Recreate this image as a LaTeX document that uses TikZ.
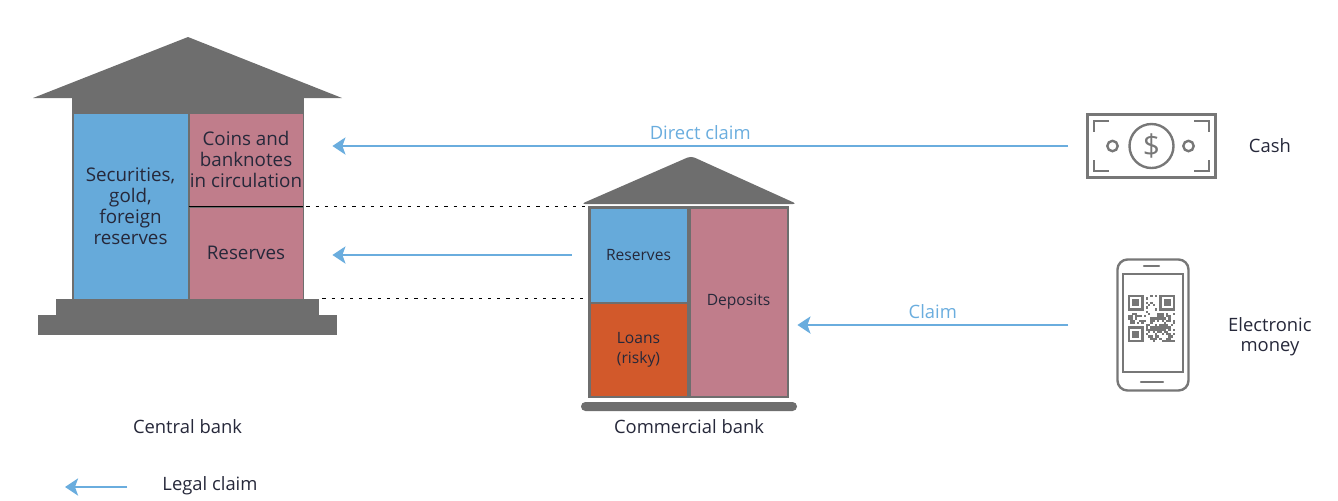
\documentclass[tikz,border=0pt]{standalone}
\usepackage{fontspec}
\setmainfont{Open Sans}
\usetikzlibrary{arrows.meta}
\usetikzlibrary{positioning}
\usetikzlibrary{calc}

\definecolor{roofgray}{HTML}{6E6E6E}
\definecolor{assetblue}{HTML}{66AADA}
\definecolor{liabpink}{HTML}{C07D8B}
\definecolor{loanorange}{HTML}{D2592B}
\definecolor{claimblue}{HTML}{6AADDE}
\definecolor{icongray}{HTML}{777777}
\definecolor{txtdark}{HTML}{26283A}

\tikzset{
  block/.style={draw=roofgray, line width=0.4pt, inner sep=0pt, align=center, text=txtdark,
    font=\fontsize{9.4}{10.5}\selectfont},
  smallblock/.style={block, font=\fontsize{7.8}{10}\selectfont},
  claim/.style={draw=claimblue, line width=1.3pt, -{Stealth[length=6.5pt,width=8.5pt,inset=1.5pt]}},
  namelabel/.style={text=txtdark, font=\fontsize{9.2}{10.2}\selectfont, align=center},
  icon/.style={draw=icongray, line width=1.2pt},
  refline/.style={draw=black, line width=0.8pt, dash pattern=on 1.6pt off 3pt},
}

\begin{document}
\begin{tikzpicture}[x=0.5pt, y=-0.5pt, node distance=10pt]
  \useasboundingbox (0,0) rectangle (1338,500);

  % central bank
  \fill[roofgray] (33,98) -- (188,37) -- (342,98) -- cycle;
  \node[fill=roofgray, inner sep=0pt, minimum width=116pt, minimum height=101.5pt] (cbframe) at (188,199) {};
  \node[block, fill=assetblue, minimum width=57.5pt, minimum height=93pt] (cbassets) at (130.5,206) {Securities,\\gold,\\foreign\\reserves};
  \node[block, fill=liabpink, minimum width=57pt, minimum height=46.5pt] (cbcoins) at (246,159.5) {Coins and\\banknotes\\in circulation};
  \node[block, fill=liabpink, minimum width=57pt, minimum height=46pt] (cbres) at (246,253) {Reserves};
  \draw[black, line width=0.9pt] (cbcoins.south west) -- (cbcoins.south east);
  \node[fill=roofgray, inner sep=0pt, minimum width=131.5pt, minimum height=8pt] (cbstep) at (187.5,307) {};
  \node[fill=roofgray, inner sep=0pt, minimum width=149.5pt, minimum height=10pt] (cbbase) at (187.5,325) {};

  % commercial bank
  \fill[roofgray, rounded corners=2pt] (581,204) -- (691,156) -- (797,204) -- cycle;
  \node[fill=roofgray, inner sep=0pt, minimum width=100.5pt, minimum height=96pt] (crframe) at (688.5,302) {};
  \node[smallblock, fill=assetblue, minimum width=48.5pt, minimum height=47pt] (crres) at (638.5,255) {Reserves};
  \node[smallblock, fill=loanorange, minimum width=48.5pt, minimum height=46.5pt] (crloans) at (638.5,349.5) {Loans\\(risky)};
  \node[smallblock, fill=liabpink, minimum width=48.5pt, minimum height=94pt] (crdep) at (738.5,302) {Deposits};
  \node[fill=roofgray, rounded corners=2.2pt, inner sep=0pt, minimum width=108pt, minimum height=4.5pt] (crbase) at (689,406.5) {};

  \node[namelabel, below=0.5pt of crbase] (crname) {Commercial bank};
  \node[namelabel] (cbname) at (cbbase.south |- crname) {Central bank};

  \draw[refline] ([xshift=1.5pt]cbcoins.south east) -- ([xshift=-1.5pt]cbcoins.south east -| crframe.west);
  \draw[refline] ([xshift=1.5pt]cbstep.north east) -- ([xshift=-1.5pt]cbstep.north east -| crframe.west);

  % cash
  \node[icon, line width=1.4pt, inner sep=0pt, minimum width=64pt, minimum height=31.5pt] (cash) at (1151.5,146) {};
  \foreach \cx/\cy/\sx/\sy in {1094/121/1/1, 1209/121/-1/1, 1094/171/1/-1, 1209/171/-1/-1}
    \draw[icon] (\cx+\sx*15,\cy) -- (\cx,\cy) -- (\cx,\cy+\sy*11);
  \node[icon, circle, inner sep=0pt, minimum size=22pt, text=icongray,
    font=\fontsize{15}{15}\selectfont] (coin) at (cash.center) {\$};
  \draw[icon] ($(cash.center)+(-39,0)$) circle (2.6pt);
  \draw[icon] ($(cash.center)+(37,0)$) circle (2.6pt);
  \node[namelabel, right=12.5pt of cash] (cashname) {Cash};

  % electronic money
  \node[icon, rounded corners=5pt, inner sep=0pt, minimum width=35.5pt, minimum height=65.5pt] (phone) at (1153,325) {};
  \node[icon, inner sep=0pt, minimum width=30pt, minimum height=49pt] (screen) at (1153,323) {};
  \draw[icon, line cap=round] (1144,266) -- (1159,266);
  \draw[icon, line cap=round] (1141,382) -- (1163,382);
  \coordinate (qr) at (1128,295);
  \pgfmathsetseed{17}
  \foreach \i in {0,...,20}{
    \foreach \j in {0,...,20}{
      \pgfmathtruncatemacro{\infinder}{((\i<8)&&(\j<8))||((\i>12)&&(\j<8))||((\i<8)&&(\j>12))}
      \pgfmathtruncatemacro{\on}{rnd<0.5}
      \ifnum\infinder=0 \ifnum\on=1
        \fill[icongray] ($(qr)+(\i*2.24,\j*2.24)$) rectangle ++(2.3,2.3);
      \fi\fi
    }
  }
  \foreach \fx/\fy in {0/0, 14/0, 0/14}{
    \draw[icongray, line width=1.1pt] ($(qr)+(\fx*2.24+1.12,\fy*2.24+1.12)$) rectangle ++(13.44,13.44);
    \fill[icongray] ($(qr)+(\fx*2.24+4.48,\fy*2.24+4.48)$) rectangle ++(6.72,6.72);
  }
  \node[namelabel] (emoneyname) at ([yshift=-6pt]cashname |- phone) {Electronic\\money};

  % claims
  \draw[claim] ([xshift=-9pt]cash.west) -- ([xshift=14.5pt]cbcoins.east |- cash.west)
    node[midway, above=-1pt, text=claimblue, font=\fontsize{9.2}{10.5}\selectfont] (directlbl) {Direct claim};
  \draw[claim] ([xshift=-9pt]crres.west) -- ([xshift=14.5pt]cbres.east |- crres.west);
  \draw[claim] ([xshift=-24pt]phone.west) -- ([xshift=5pt]crdep.east |- phone.west)
    node[midway, above=-1pt, text=claimblue, font=\fontsize{9.2}{10.5}\selectfont] (claimlbl) {Claim};

  % legend
  \node[namelabel] (legendlbl) at (210,486) {Legal claim};
  \coordinate (legendtip) at (65,487);
  \draw[claim] ([xshift=-14pt]legendlbl.west |- legendtip) -- (legendtip);
\end{tikzpicture}
\end{document}
